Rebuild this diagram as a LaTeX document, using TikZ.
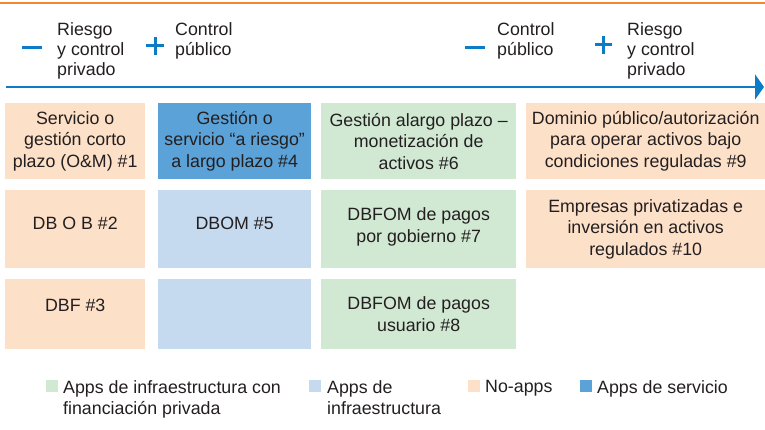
\documentclass[tikz,border=0pt]{standalone}
\usepackage{fontspec}
\setmainfont{Liberation Sans}
\usetikzlibrary{arrows.meta}
\definecolor{peach}{HTML}{FDE0C8}
\definecolor{srvblue}{HTML}{5BA2D8}
\definecolor{infblue}{HTML}{C5D9EF}
\definecolor{fingreen}{HTML}{D1E8D3}
\definecolor{axisblue}{HTML}{0C7CC6}
\definecolor{topline}{HTML}{F08A2B}
\definecolor{txt}{HTML}{231F20}
\tikzset{
  cell/.style={inner sep=0pt, anchor=north west, align=center, text=txt,
    font=\fontsize{17.8}{21.5}\selectfont},
  toplabel/.style={inner sep=0pt, anchor=north west, align=left, text=txt,
    font=\fontsize{17.8}{20}\selectfont},
  legtext/.style={inner sep=0pt, anchor=north west, align=left, text=txt,
    font=\fontsize{17.8}{21}\selectfont},
  legsq/.style={inner sep=0pt, anchor=north west, minimum width=12pt, minimum height=12pt},
  sign/.style={draw=axisblue, line width=3pt},
}
\begin{document}
\begin{tikzpicture}[x=1pt, y=-1pt]
\useasboundingbox (0,0) rectangle (765,430);
% top orange rule
\coordinate (tl) at (0,3);
\coordinate (tr) at (765,3);
\draw[topline, line width=2.5pt] (tl) -- (tr);
% axis
\coordinate (axL) at (6,87);
\coordinate (axR) at (764,87);
\draw[axisblue, line width=2pt, -{Triangle[length=9pt, width=25pt]}] (axL) -- (axR);
% signs
\coordinate (m1a) at (22,48); \coordinate (m1b) at (42,48);
\draw[sign] (m1a) -- (m1b);
\coordinate (p1a) at (146,46); \coordinate (p1b) at (164,46);
\coordinate (p1c) at (155,37); \coordinate (p1d) at (155,55);
\draw[sign] (p1a) -- (p1b); \draw[sign] (p1c) -- (p1d);
\coordinate (m2a) at (465,48); \coordinate (m2b) at (485,48);
\draw[sign] (m2a) -- (m2b);
\coordinate (p2a) at (595,45); \coordinate (p2b) at (612,45);
\coordinate (p2c) at (603.5,36); \coordinate (p2d) at (603.5,54);
\draw[sign] (p2a) -- (p2b); \draw[sign] (p2c) -- (p2d);
% top labels
\node[toplabel] (l1) at (57,22) {Riesgo\\y control\\privado};
\node[toplabel] (l2) at (175,22) {Control\\público};
\node[toplabel] (l3) at (497,22) {Control\\público};
\node[toplabel] (l4) at (627,22) {Riesgo\\y control\\privado};
% row 1
\node[cell, fill=peach, minimum width=140pt, minimum height=76pt] (b1) at (5,103) {Servicio o\\gestión corto\\plazo (O\&M) \#1};
\node[cell, fill=srvblue, minimum width=153pt, minimum height=76pt] (b4) at (158,103) {Gestión o\\servicio “a riesgo”\\a largo plazo \#4};
\node[cell, fill=fingreen, minimum width=195pt, minimum height=76pt] (b6) at (321,103) {Gestión alargo plazo –\\monetización de\\activos \#6};
\node[cell, fill=peach, minimum width=239pt, minimum height=76pt] (b9) at (526,103) {Dominio público/autorización\\para operar activos bajo\\condiciones reguladas \#9};
% row 2
\node[cell, fill=peach, minimum width=140pt, minimum height=78pt, text depth=12pt] (b2) at (5,190) {DB O B \#2};
\node[cell, fill=infblue, minimum width=153pt, minimum height=78pt, text depth=12pt] (b5) at (158,190) {DBOM \#5};
\node[cell, fill=fingreen, minimum width=195pt, minimum height=78pt] (b7) at (321,190) {DBFOM de pagos\\por gobierno \#7\vspace{5pt}};
\node[cell, fill=peach, minimum width=239pt, minimum height=78pt] (b10) at (526,190) {Empresas privatizadas e\\inversión en activos\\regulados \#10};
% row 3
\node[cell, fill=peach, minimum width=140pt, minimum height=70pt, text depth=18pt] (b3) at (5,279) {DBF \#3};
\node[cell, fill=infblue, minimum width=153pt, minimum height=70pt] (b5b) at (158,279) {};
\node[cell, fill=fingreen, minimum width=195pt, minimum height=70pt] (b8) at (321,279) {DBFOM de pagos\\usuario \#8};
% legend
\node[legsq, fill=fingreen] (s1) at (46,380) {};
\node[legtext] (t1) at (63,380) {Apps de infraestructura con\\financiación privada};
\node[legsq, fill=infblue] (s2) at (309,380) {};
\node[legtext] (t2) at (327,380) {Apps de\\infraestructura};
\node[legsq, fill=peach] (s3) at (468,380) {};
\node[legtext] (t3) at (485,380) {No-apps};
\node[legsq, fill=srvblue] (s4) at (580,380) {};
\node[legtext] (t4) at (597,380) {Apps de servicio};
\end{tikzpicture}
\end{document}
